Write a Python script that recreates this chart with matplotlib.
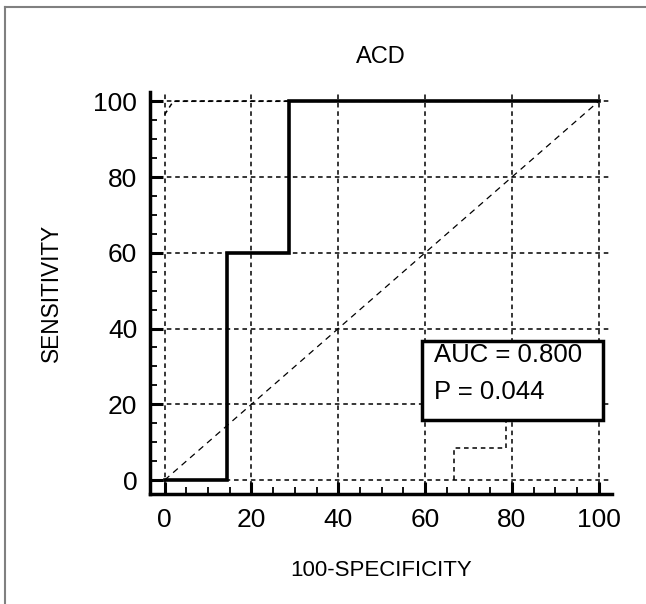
import matplotlib
matplotlib.use("Agg")
import matplotlib.pyplot as plt
from matplotlib.ticker import MultipleLocator
from matplotlib.lines import Line2D
from matplotlib.patches import Rectangle

plt.rcParams['font.family'] = ['Liberation Sans', 'DejaVu Sans']

# Données de la courbe ROC
roc_x = [0, 14.3, 14.3, 28.6, 28.6, 100]
roc_y = [0, 0, 60, 60, 100, 100]

# Bandes de confiance
upper_x = [0, 2, 100]
upper_y = [96.5, 100, 100]
lower_x = [66.7, 66.7, 78.6, 78.6]
lower_y = [0, 8.4, 8.4, 20]

auc_txt = "AUC = 0.800"
p_txt = "P = 0.044"

fig = plt.figure(figsize=(6.46, 6.04), dpi=100)
ax = fig.add_axes([0.232, 0.182, 0.715, 0.666])

ax.set_xlim(-3.4, 103)
ax.set_ylim(-3.7, 102.5)

ax.xaxis.set_major_locator(MultipleLocator(20))
ax.yaxis.set_major_locator(MultipleLocator(20))
ax.xaxis.set_minor_locator(MultipleLocator(5))
ax.yaxis.set_minor_locator(MultipleLocator(5))
ax.tick_params(which='major', direction='in', length=9, width=2.2, labelsize=19)
ax.tick_params(axis='y', which='major', pad=9)
ax.tick_params(axis='x', which='major', pad=10)
ax.tick_params(which='minor', direction='in', length=5, width=1.3)

for s in ['top', 'right']:
    ax.spines[s].set_visible(False)
for s in ['left', 'bottom']:
    ax.spines[s].set_linewidth(2.5)

ax.grid(True, which='major', color='black', linestyle=(0, (3, 2.5)), linewidth=1.1)
ax.set_axisbelow(True)

# Diagonale
ax.plot([0, 100], [0, 100], color='black', linestyle=(0, (5, 4)), linewidth=0.9)

# Intervalles de confiance
ax.plot(upper_x, upper_y, color='black', linestyle=(0, (3, 2.5)), linewidth=1.1)
ax.plot(lower_x, lower_y, color='black', linestyle=(0, (3, 2.5)), linewidth=1.1)

# Courbe ROC
ax.plot(roc_x, roc_y, color='black', linewidth=2.6, solid_joinstyle='miter', zorder=5)

# Encadré AUC
ax.add_patch(Rectangle((59.3, 15.8), 41.6, 20.9, facecolor='white', edgecolor='black',
                       linewidth=2.5, zorder=9, clip_on=False))
ax.text(62, 33, auc_txt, fontsize=18.5, va='center', ha='left', zorder=10)
ax.text(62, 23.2, p_txt, fontsize=18.5, va='center', ha='left', zorder=10)

ax.set_title("ACD", fontsize=17, pad=21)
ax.set_xlabel("100-SPECIFICITY", fontsize=16, labelpad=20)
ax.set_ylabel("SENSITIVITY", fontsize=16.3, labelpad=22)

# Cadre de la figure
fig.add_artist(Line2D([5 / 646, 5 / 646], [0, 1 - 7 / 604], color='gray', linewidth=1.5))
fig.add_artist(Line2D([5 / 646, 1], [1 - 7 / 604, 1 - 7 / 604], color='gray', linewidth=1.5))

fig.savefig("out.png", dpi=100)
